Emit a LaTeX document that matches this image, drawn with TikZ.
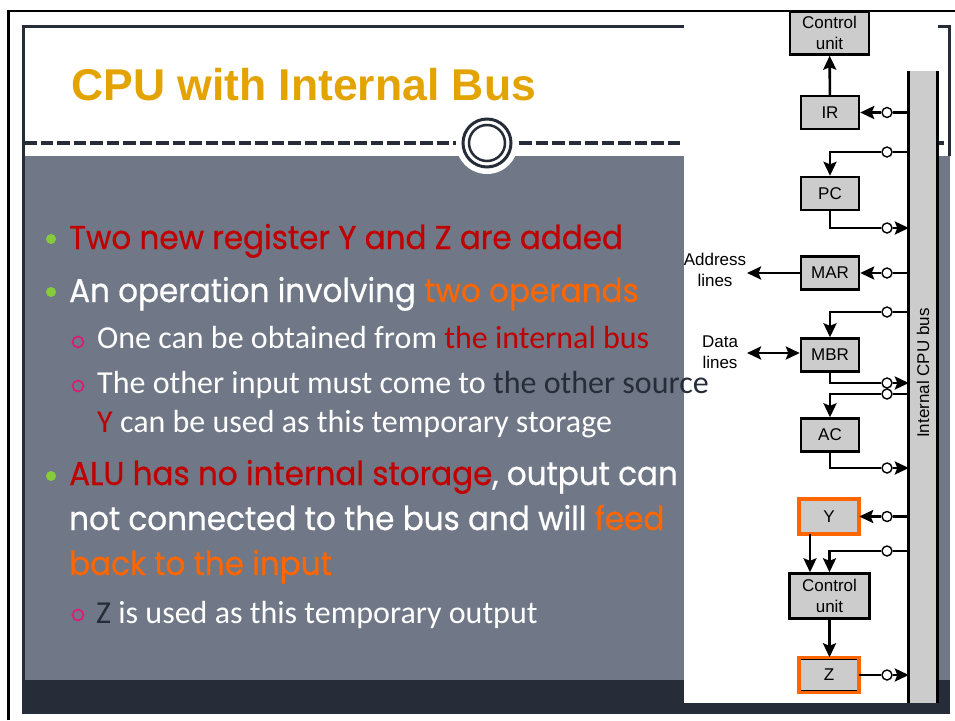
\documentclass[tikz,border=0pt]{standalone}
\usepackage{fontspec}
\setmainfont{Liberation Sans}
\newfontfamily\bulletFont{Poppins}[FakeStretch=0.94, FakeBold=0.6]
\newfontfamily\subFont{Carlito}
\usetikzlibrary{positioning,arrows.meta}
\definecolor{slideDark}{RGB}{38,45,56}
\definecolor{slideGray}{RGB}{112,119,134}
\definecolor{titleGold}{RGB}{227,163,0}
\definecolor{textRed}{RGB}{192,0,0}
\definecolor{textOrange}{RGB}{255,102,0}
\definecolor{bulletGreen}{RGB}{134,204,58}
\definecolor{subPink}{RGB}{228,22,120}
\definecolor{regGray}{RGB}{204,204,204}
\tikzset{>={Stealth[length=14pt,width=13pt,inset=2.5pt]}}
\tikzstyle{regBox} = [draw=black, fill=regGray, line width=2.4pt, minimum width=58pt, minimum height=33pt, inner sep=0pt, font=\fontsize{17}{20.5}\selectfont]
\tikzstyle{cuBox} = [regBox, minimum width=79pt, minimum height=43pt, align=center]
\tikzstyle{tempEdge} = [draw=textOrange, line width=3.5pt]
\tikzstyle{tap} = [circle, draw=black, fill=white, line width=1.4pt, minimum size=10pt, inner sep=0pt]
\tikzstyle{wire} = [line width=2.6pt]
\tikzstyle{wireArrow} = [wire, ->]
\tikzstyle{sideText} = [align=center, inner sep=0pt, font=\fontsize{17}{20.5}\selectfont]
\tikzstyle{mainLine} = [anchor=base west, inner sep=0pt, text=white, font=\bulletFont\fontsize{33}{38}\selectfont]
\tikzstyle{subLine} = [anchor=base west, inner sep=0pt, text=white, font=\subFont\fontsize{32}{36}\selectfont]
\tikzstyle{greenDot} = [circle, fill=bulletGreen, minimum size=10pt, inner sep=0pt]
\tikzstyle{pinkRing} = [circle, draw=subPink, line width=1.6pt, minimum size=11pt, inner sep=0pt]
% bus -> tap -> register side
\newcommand{\tapInto}[3]{
  \node[tap] (#1) at (887,#2) {};
  \draw[wire] (#1 -| bus.west) -- (#1);
  \draw[wireArrow] (#1) -- (#1 -| #3.east);
}
% bus -> tap -> down into register top
\newcommand{\tapDown}[3]{
  \node[tap] (#1) at (887,#2) {};
  \draw[wire] (#1 -| bus.west) -- (#1);
  \draw[wireArrow] (#1) -| (#3.north);
}
% register bottom -> tap -> bus
\newcommand{\tapOut}[3]{
  \node[tap] (#1) at (887,#2) {};
  \draw[wire] (#3.south) |- (#1);
  \draw[wireArrow] (#1) -- (#1 -| bus.west);
}

\begin{document}
\begin{tikzpicture}[x=1pt, y=-1pt]
  \useasboundingbox (0,0) rectangle (955,720);
  \fill[white] (0,0) rectangle (955,720);

  % slide
  \draw[line width=2.5pt] (8.7,720) -- (8.7,11) -- (955,11);
  \fill[slideGray] (22,156) rectangle (950,680);
  \fill[slideDark] (22,680) rectangle (950,714);
  \draw[slideDark, line width=3pt] (23.5,714) -- (23.5,26.5) -- (949.5,26.5) -- (949.5,156);
  \draw[slideDark, line width=4pt, dash pattern=on 12.5pt off 4pt] (24,143) -- (950,143);
  \fill[white] (487,143) circle (31pt);
  \draw[slideDark, line width=3pt] (487,143) circle (24pt);
  \draw[slideDark, line width=2.5pt] (487,143) circle (18pt);

  \node[anchor=base west, inner sep=0pt, text=titleGold, font=\bfseries\fontsize{44.5}{50}\selectfont] (title) at (71,100) {CPU with Internal Bus};

  % bullets
  \node[greenDot] (dot1) at (51,239) {};
  \node[greenDot] (dot2) at (51,292) {};
  \node[greenDot] (dot3) at (51,476) {};
  \node[pinkRing] (ring1) at (78,342) {};
  \node[pinkRing] (ring2) at (78,386) {};
  \node[pinkRing] (ring3) at (78,615) {};
  \node[mainLine, text=textRed] (line1) at (69,249) {Two new register Y and Z are added};
  \node[mainLine] (line2) at (69,302) {An operation involving \textcolor{textOrange}{two operands}};
  \node[subLine] (sub1) at (97,348) {One can be obtained from \textcolor{textRed}{the internal bus}};
  \node[subLine] (sub2b) at (97,432) {\textcolor{textRed}{Y} can be used as this temporary storage};
  \node[mainLine] (line3) at (69,485) {\textcolor{textRed}{ALU has no internal storage}, output can};
  \node[mainLine] (line3b) at (69,530) {not connected to the bus and will \textcolor{textOrange}{feed}};
  \node[mainLine, text=textOrange] (line3c) at (69,575) {back to the input};
  \node[subLine] (sub3) at (96,623) {\textcolor{slideDark}{Z} is used as this temporary output};

  % diagram
  \fill[white] (684,12.5) rectangle (938,703);
  \node[inner sep=0pt, minimum width=28pt, minimum height=632pt, fill=regGray] (bus) at (923,387) {};
  \draw[line width=2.7pt] (bus.north west) -- (bus.south west);
  \draw[line width=2.7pt] (bus.north east) -- (bus.south east);
  \node[rotate=90, sideText] (busText) at (923,373) {Internal CPU bus};

  \node[cuBox] (cu) at (829.5,33) {Control\\unit};
  \node[regBox] (ir) at (830,112.5) {IR};
  \node[regBox] (pc) at (830,193.5) {PC};
  \node[regBox] (mar) at (830,273) {MAR};
  \node[regBox] (mbr) at (830,355) {MBR};
  \node[regBox] (ac) at (830,435) {AC};
  \node[regBox] (y) at (829,516.5) {Y};
  \node[cuBox, minimum width=80pt, minimum height=45pt] (alu) at (829.5,596) {Control\\unit};
  \node[regBox] (z) at (829,675) {Z};
  \draw[tempEdge] (y.south west) rectangle (y.north east);
  \draw[tempEdge] (z.south west) rectangle (z.north east);

  \draw[wireArrow] (ir) -- (cu);
  \tapInto{tIR}{112.5}{ir}
  \tapDown{tPCin}{152}{pc}
  \tapOut{tPCout}{228}{pc}
  \tapInto{tMAR}{273}{mar}
  \tapDown{tMBRin}{312}{mbr}
  \tapOut{tMBRout}{383}{mbr}
  \tapDown{tACin}{394}{ac}
  \tapOut{tACout}{468}{ac}
  \tapInto{tY}{516.5}{y}
  \tapDown{tALU}{551}{alu}
  \node[tap] (tZ) at (887,675) {};
  \draw[wire] (z) -- (tZ);
  \draw[wireArrow] (tZ) -- (tZ -| bus.west);
  \draw[wireArrow] ([xshift=-19pt]y.south) -- ([xshift=-19pt]y.south |- alu.north);
  \draw[wireArrow] (alu.south) -- (alu.south |- z.north);

  \node[sideText] (addrText) at (715,270) {Address\\lines};
  \coordinate (addrEnd) at (747,273);
  \draw[wireArrow] (mar) -- (addrEnd);
  \node[sideText] (dataText) at (720,352) {Data\\lines};
  \coordinate (dataEnd) at (747,353);
  \draw[wire, <->] (dataEnd) -- (dataEnd -| mbr.west);

  % this line runs over the diagram
  \node[subLine] (sub2) at (97,393) {The other input must come to \textcolor{slideDark}{the other source}};
\end{tikzpicture}
\end{document}
